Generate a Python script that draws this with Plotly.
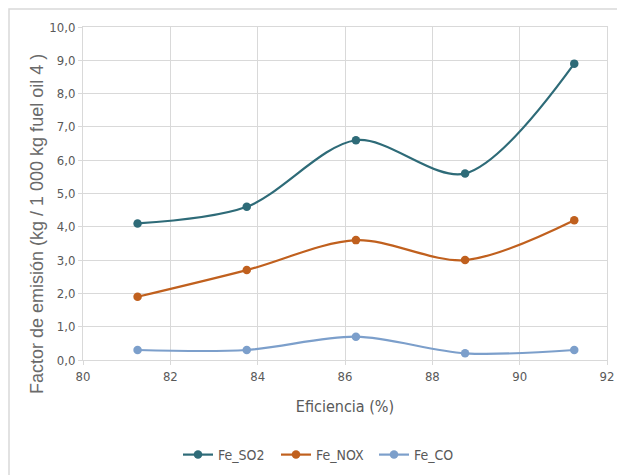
import plotly.graph_objects as go

eficiencia = [81.25, 83.75, 86.25, 88.75, 91.25]
fe_so2 = [4.1, 4.6, 6.6, 5.6, 8.9]
fe_nox = [1.9, 2.7, 3.6, 3.0, 4.2]
fe_co = [0.3, 0.3, 0.7, 0.2, 0.3]

series_names = ["Fe_SO2", "Fe_NOX", "Fe_CO"]
series_colors = ["#2E6B78", "#C0601E", "#7C9FCB"]

y_tickvals = [0, 1, 2, 3, 4, 5, 6, 7, 8, 9, 10]
y_ticktext = ["0,0", "1,0", "2,0", "3,0", "4,0", "5,0", "6,0", "7,0", "8,0", "9,0", "10,0"]
x_tickvals = [80, 82, 84, 86, 88, 90, 92]

NARROW = "DejaVu Sans Condensed, Liberation Sans Narrow, Roboto, sans-serif"
TXT = "#595959"
GRID = "#d9d9d9"

fig = go.Figure()
for name, vals, col in zip(series_names, [fe_so2, fe_nox, fe_co], series_colors):
    fig.add_trace(go.Scatter(
        x=eficiencia, y=vals, name=name, mode="lines+markers",
        line=dict(color=col, width=2.2, shape="spline", smoothing=0.9),
        marker=dict(color=col, size=8.5),
    ))

# page body margin offset (8px)
OFF = 8
W, H = 625 - OFF, 475 - OFF
# desired plot area in window pixels
PX0, PX1, PY0, PY1 = 83, 607, 27, 360
L = PX0 - OFF
R = W - (PX1 - OFF)
T = PY0 - OFF
B = H - (PY1 - OFF)
pw = PX1 - PX0
ph = PY1 - PY0

def px_x(p):
    return (p - PX0) / pw

def px_y(p):
    return (PY1 - p) / ph

fig.update_layout(
    width=W, height=H,
    margin=dict(l=L, r=R, t=T, b=B, autoexpand=False),
    paper_bgcolor="white", plot_bgcolor="white",
    font=dict(family=NARROW, color=TXT, size=12),
    showlegend=True,
    legend=dict(orientation="h", x=px_x(325), xanchor="center", y=px_y(455), yanchor="middle",
                entrywidth=53, entrywidthmode="pixels",
                font=dict(family=NARROW, size=14, color=TXT)),
    xaxis=dict(range=[80, 92], tickvals=x_tickvals, showgrid=True, gridcolor=GRID, gridwidth=1,
               showline=True, linecolor=GRID, mirror=True, ticks="outside", ticklen=4, tickcolor=GRID,
               zeroline=False, automargin=False, tickfont=dict(family=NARROW, size=13, color=TXT),
               title=dict(text="Eficiencia (%)", font=dict(family=NARROW, size=16, color=TXT), standoff=18)),
    yaxis=dict(range=[0, 10], tickvals=y_tickvals, ticktext=y_ticktext, showgrid=True, gridcolor=GRID,
               gridwidth=1, showline=True, linecolor=GRID, mirror=True, ticks="outside", ticklen=4,
               tickcolor=GRID, zeroline=False, automargin=False,
               tickfont=dict(family=NARROW, size=13, color=TXT)),
    annotations=[dict(text="Factor de emisión (kg / 1 000 kg fuel oil 4 )", xref="paper", yref="paper",
                      x=px_x(37), y=px_y(224), xanchor="center", yanchor="middle", textangle=-90,
                      showarrow=False,
                      font=dict(family="Liberation Sans, Arial, sans-serif", size=18, color="#6a6a6a"))],
    shapes=[dict(type="rect", xref="paper", yref="paper",
                 x0=px_x(9), x1=px_x(640), y0=px_y(490), y1=px_y(9),
                 line=dict(color="#d9d9d9", width=1.5), fillcolor="rgba(0,0,0,0)", layer="below")],
)

fig.write_html("out.html")
